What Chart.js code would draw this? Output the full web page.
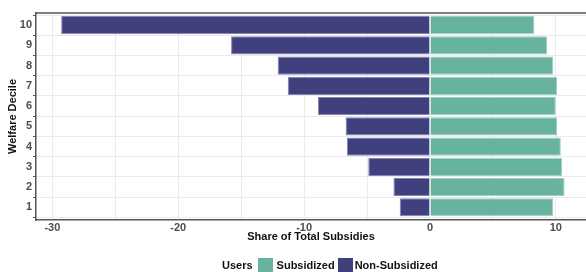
<!DOCTYPE html>
<html>
<head>
<meta charset="utf-8">
<script src="https://cdn.jsdelivr.net/npm/chart.js@4/dist/chart.umd.min.js"></script>
<style>
  html, body { margin: 0; padding: 0; background: #fff; }
  #wrap { position: relative; width: 586px; height: 272px; font-family: "Liberation Sans", Arial, sans-serif; }
  #legend { position: absolute; left: 222px; top: 258px; display: flex; align-items: center; font-weight: bold; font-size: 11px; color: #111; white-space: nowrap; }
  #legend .sw { display: inline-block; width: 15px; height: 14px; margin: 0 4px 0 5px; }
</style>
</head>
<body>
<div id="wrap">
  <canvas id="chart" width="586" height="272"></canvas>
  <div id="legend">
    <span>Users</span>
    <span class="sw" style="background:#68b2a0"></span><span>Subsidized</span>
    <span class="sw" style="background:#41407e;margin-left:3px;margin-right:2px"></span><span>Non-Subsidized</span>
  </div>
</div>
<script>
const deciles = [1, 2, 3, 4, 5, 6, 7, 8, 9, 10];
const subsidized = [9.8, 10.7, 10.5, 10.4, 10.1, 10.0, 10.1, 9.8, 9.3, 8.3];
const nonSubsidized = [-2.4, -2.9, -4.9, -6.6, -6.7, -8.9, -11.3, -12.1, -15.8, -29.3];
const xTicks = [-30, -25, -20, -15, -10, -5, 0, 5, 10];

const tickFont = { family: 'Liberation Sans', size: 11, weight: 'bold' };
const titleFont = { family: 'Liberation Sans', size: 11, weight: 'bold' };

// top border of the panel
const topBorder = {
    id: 'topBorder',
    afterDraw(chart) {
        const c = chart.ctx, a = chart.chartArea;
        c.save();
        c.strokeStyle = '#555';
        c.lineWidth = 1.5;
        c.beginPath();
        c.moveTo(a.left, a.top);
        c.lineTo(a.right, a.top);
        c.stroke();
        c.restore();
    }
};

new Chart(document.getElementById('chart').getContext('2d'), {
    type: 'bar',
    data: {
        datasets: [{
            label: 'Subsidized',
            data: deciles.map((d, i) => ({ x: subsidized[i], y: d })),
            backgroundColor: '#68b2a0',
            borderColor: '#9fd0c3',
            borderWidth: 1
        }, {
            label: 'Non-Subsidized',
            data: deciles.map((d, i) => ({ x: nonSubsidized[i], y: d })),
            backgroundColor: '#41407e',
            borderColor: '#8583b0',
            borderWidth: 1
        }]
    },
    options: {
        indexAxis: 'y',
        responsive: false,
        animation: false,
        categoryPercentage: 0.9,
        barPercentage: 1,
        layout: { padding: { top: 13, right: 0, left: 6, bottom: 28 } },
        plugins: { legend: { display: false }, tooltip: { enabled: false } },
        scales: {
            x: {
                type: 'linear',
                stacked: true,
                min: -31.3,
                max: 12.4,
                afterBuildTicks: s => { s.ticks = xTicks.map(v => ({ value: v })); },
                afterFit: s => { s.height = 24; },
                ticks: {
                    font: tickFont,
                    color: '#4d4d4d',
                    padding: 1,
                    maxRotation: 0,
                    autoSkip: false,
                    callback: v => (v % 10 === 0 ? String(v) : '')
                },
                grid: { color: '#ebebeb', drawTicks: false },
                border: { color: '#555', width: 1.5 },
                title: {
                    display: true,
                    text: 'Share of Total Subsidies',
                    font: titleFont,
                    color: '#111',
                    padding: { top: 2, bottom: 0 }
                }
            },
            y: {
                type: 'linear',
                stacked: true,
                offset: false,
                min: 0.37,
                max: 10.6,
                afterBuildTicks: s => { s.ticks = deciles.map(v => ({ value: v })); },
                afterFit: s => { s.width = 30; },
                ticks: { font: tickFont, color: '#4d4d4d', padding: 1 },
                grid: { color: '#ebebeb', tickLength: 3, tickColor: '#555' },
                border: { color: '#555', width: 1.5 },
                title: {
                    display: true,
                    text: 'Welfare Decile',
                    font: titleFont,
                    color: '#111',
                    padding: 0
                }
            }
        }
    },
    plugins: [topBorder]
});
</script>
</body>
</html>
